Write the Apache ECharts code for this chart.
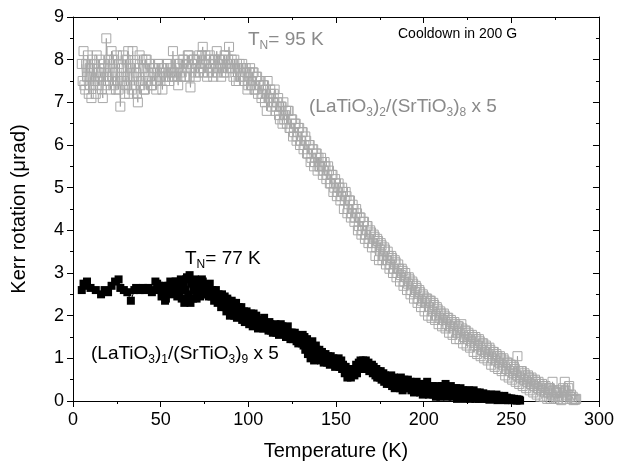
<!DOCTYPE html>
<html><head><meta charset="utf-8">
<script src="https://cdn.jsdelivr.net/npm/echarts@6/dist/echarts.min.js"></script>
<style>html,body{margin:0;padding:0;background:#fff}#c{width:617px;height:467px}</style>
</head><body><div id="c"></div>
<script>
// (LaTiO3)2/(SrTiO3)8 x 5  -- open grey squares
const tempA = [
5,5.5,6,6.5,7,7.5,8,8.5,9,9.5,
10,10.5,11,11.5,12,12.5,13,13.5,14,14.5,
15,15.5,16,16.5,17,17.5,18,18.5,19,19.5,
20,20.5,21,21.5,22,22.5,23,23.5,24,24.5,
25,25.5,26,26.5,27,27.5,28,28.5,29,29.5,
30,30.5,31,31.5,32,32.5,33,33.5,34,34.5,
35,35.5,36,36.5,37,37.5,38,38.5,39,39.5,
40,40.5,41,41.5,42,42.5,43,43.5,44,44.5,
45,45.5,46,46.5,47,47.5,48,48.5,49,49.5,
50,50.5,51,51.5,52,52.5,53,53.5,54,54.5,
55,55.5,56,56.5,57,57.5,58,58.5,59,59.5,
60,60.5,61,61.5,62,62.5,63,63.5,64,64.5,
65,65.5,66,66.5,67,67.5,68,68.5,69,69.5,
70,70.5,71,71.5,72,72.5,73,73.5,74,74.5,
75,75.5,76,76.5,77,77.5,78,78.5,79,79.5,
80,80.5,81,81.5,82,82.5,83,83.5,84,84.5,
85,85.5,86,86.5,87,87.5,88,88.5,89,89.5,
90,90.5,91,91.5,92,92.5,93,93.5,94,94.5,
95,95.5,96,96.5,97,97.5,98,98.5,99,99.5,
100,100.5,101,101.5,102,102.5,103,103.5,104,104.5,
105,105.5,106,106.5,107,107.5,108,108.5,109,109.5,
110,110.5,111,111.5,112,112.5,113,113.5,114,114.5,
115,115.5,116,116.5,117,117.5,118,118.5,119,119.5,
120,120.5,121,121.5,122,122.5,123,123.5,124,124.5,
125,125.5,126,126.5,127,127.5,128,128.5,129,129.5,
130,130.5,131,131.5,132,132.5,133,133.5,134,134.5,
135,135.5,136,136.5,137,137.5,138,138.5,139,139.5,
140,140.5,141,141.5,142,142.5,143,143.5,144,144.5,
145,145.5,146,146.5,147,147.5,148,148.5,149,149.5,
150,150.5,151,151.5,152,152.5,153,153.5,154,154.5,
155,155.5,156,156.5,157,157.5,158,158.5,159,159.5,
160,160.5,161,161.5,162,162.5,163,163.5,164,164.5,
165,165.5,166,166.5,167,167.5,168,168.5,169,169.5,
170,170.5,171,171.5,172,172.5,173,173.5,174,174.5,
175,175.5,176,176.5,177,177.5,178,178.5,179,179.5,
180,180.5,181,181.5,182,182.5,183,183.5,184,184.5,
185,185.5,186,186.5,187,187.5,188,188.5,189,189.5,
190,190.5,191,191.5,192,192.5,193,193.5,194,194.5,
195,195.5,196,196.5,197,197.5,198,198.5,199,199.5,
200,200.5,201,201.5,202,202.5,203,203.5,204,204.5,
205,205.5,206,206.5,207,207.5,208,208.5,209,209.5,
210,210.5,211,211.5,212,212.5,213,213.5,214,214.5,
215,215.5,216,216.5,217,217.5,218,218.5,219,219.5,
220,220.5,221,221.5,222,222.5,223,223.5,224,224.5,
225,225.5,226,226.5,227,227.5,228,228.5,229,229.5,
230,230.5,231,231.5,232,232.5,233,233.5,234,234.5,
235,235.5,236,236.5,237,237.5,238,238.5,239,239.5,
240,240.5,241,241.5,242,242.5,243,243.5,244,244.5,
245,245.5,246,246.5,247,247.5,248,248.5,249,249.5,
250,250.5,251,251.5,252,252.5,253,253.5,254,254.5,
255,255.5,256,256.5,257,257.5,258,258.5,259,259.5,
260,260.5,261,261.5,262,262.5,263,263.5,264,264.5,
265,265.5,266,266.5,267,267.5,268,268.5,269,269.5,
270,270.5,271,271.5,272,272.5,273,273.5,274,274.5,
275,275.5,276,276.5,277,277.5,278,278.5,279,279.5,
280,280.5,281,281.5,282,282.5,283,283.5,284,284.5,
285,285.5,286,286.5,287];
const kerrA = [
7.9,7.5,8.2,7.4,7.3,7.9,7.6,8.1,7.2,7.8,
7.6,7.1,8.0,7.4,7.9,7.5,7.2,8.1,7.7,7.4,
8.0,7.6,7.7,7.3,7.1,7.9,7.8,7.4,8.5,7.6,
7.5,8.0,7.9,7.3,8.2,7.6,7.4,8.0,7.7,7.3,
8.1,7.5,7.3,7.9,6.9,7.6,7.8,8.1,7.5,7.2,
8.0,7.4,7.6,8.2,7.2,7.8,7.9,7.3,8.2,7.6,
7.4,7.9,7.7,7.2,7.0,7.8,8.1,7.4,7.5,8.0,
7.8,7.3,7.3,8.0,8.0,7.5,7.6,7.9,7.9,7.4,
7.4,7.8,7.7,7.5,7.8,7.3,7.5,7.9,7.9,7.6,
7.6,7.8,7.3,7.7,7.8,7.5,7.6,7.9,7.9,7.6,
7.5,7.8,7.7,7.6,8.2,7.7,7.6,7.9,7.8,7.6,
7.4,7.9,7.9,7.6,7.7,8.0,8.0,7.6,7.6,7.9,
7.8,8.1,8.1,7.6,7.35,7.8,7.9,8.0,8.0,7.7,
7.6,8.0,7.9,7.7,8.1,7.8,7.8,8.1,8.3,7.7,
7.9,8.1,8.0,7.6,7.7,8.0,8.1,7.8,7.9,7.7,
7.6,8.0,8.0,7.8,8.2,7.7,7.8,8.0,7.9,7.6,
8.0,7.8,7.7,8.1,8.1,7.7,7.9,8.0,8.3,7.8,
7.8,8.0,7.9,7.6,8.0,7.8,7.5,7.9,7.8,7.5,
7.9,7.6,7.6,7.9,7.8,7.5,7.5,7.8,7.7,7.3,
7.4,7.7,7.8,7.4,7.5,7.7,7.7,7.3,7.3,7.6,
7.6,7.2,7.4,7.5,7.5,7.1,7.2,7.4,7.4,7.0,
7.3,6.8,7.5,7.1,7.1,7.3,7.2,6.9,7.0,7.2,
7.3,6.8,6.9,7.0,7.1,6.7,6.6,6.9,6.9,6.5,
7.0,6.6,6.7,6.8,6.5,6.8,6.8,6.4,6.4,6.6,
6.6,6.2,6.3,6.5,6.5,6.1,6.2,6.4,6.4,6.0,
6.1,6.3,6.3,5.9,6.0,6.2,6.1,5.8,5.8,6.0,
6.0,5.6,5.7,5.9,5.9,5.5,5.6,5.8,5.8,5.4,
5.7,5.5,5.5,5.7,5.6,5.3,5.4,5.6,5.5,5.2,
5.3,5.5,5.4,5.1,5.1,5.3,5.3,4.9,5.0,5.2,
5.1,4.8,4.9,5.1,5.0,4.7,4.8,5.0,4.9,4.5,
4.7,4.9,4.8,4.4,4.5,4.7,4.7,4.3,4.4,4.6,
4.5,4.2,4.3,4.5,4.4,4.0,4.1,4.3,4.3,3.9,
4.0,4.2,4.2,3.8,3.9,4.1,4.1,3.7,3.8,4.0,
3.95,3.6,3.7,3.9,3.85,3.4,3.6,3.8,3.75,3.3,
3.55,3.7,3.65,3.3,3.4,3.6,3.55,3.2,3.3,3.5,
3.4,3.1,3.2,3.4,3.35,3.0,3.1,3.3,3.25,2.9,
3.0,3.2,3.1,2.8,2.95,3.1,3.05,2.7,2.8,3.0,
2.9,2.6,2.75,2.9,2.85,2.5,2.6,2.8,2.75,2.4,
2.55,2.7,2.65,2.3,2.4,2.6,2.55,2.2,2.35,2.5,
2.45,2.1,2.3,2.4,2.4,2.0,2.2,2.35,2.35,1.95,
2.1,2.3,2.25,1.9,2.0,2.2,2.15,1.8,1.95,2.1,
2.05,1.75,1.9,2.05,2.0,1.7,1.8,1.95,1.95,1.6,
1.75,1.9,1.85,1.55,1.7,1.85,1.8,1.45,1.6,1.75,
1.75,1.45,1.6,1.8,1.7,1.35,1.5,1.65,1.65,1.3,
1.45,1.6,1.55,1.25,1.4,1.55,1.5,1.15,1.3,1.5,
1.45,1.1,1.3,1.45,1.4,1.05,1.2,1.35,1.35,1.0,
1.15,1.3,1.25,0.95,1.1,1.25,1.2,0.85,1.0,1.15,
1.15,0.8,0.95,1.1,1.05,0.75,0.9,1.05,1.0,0.7,
0.85,1.0,0.95,0.6,0.75,0.9,0.9,0.55,0.7,0.85,
0.85,0.5,0.65,0.8,0.75,0.45,0.6,1.05,0.7,0.4,
0.55,0.7,0.7,0.35,0.5,0.65,0.6,0.3,0.45,0.6,
0.55,0.25,0.4,0.55,0.5,0.2,0.35,0.5,0.45,0.15,
0.3,0.45,0.4,0.1,0.25,0.4,0.35,0.1,0.2,0.35,
0.3,0.05,0.2,0.3,0.3,0.05,0.15,0.45,0.25,0.05,
0.1,0.2,0.2,0.05,0.1,0.25,0.2,0.02,0.1,0.3,
0.2,0.45,0.25,0.05,0.15,0.3,0.35,0.1,0.15,0.05,
0.1,0.02,0.05,0.03,0.05];

// (LaTiO3)1/(SrTiO3)9 x 5  -- filled black squares
const tempB = [
5,6,7,8,10,13,16,18,20,22,24,26,27,29,31,33,35,36,38,40,41,43,45,46,47,48,49,
50,50.5,51,51.5,52,52.5,53,53.5,54,54.5,
55,55.5,56,56.5,57,57.5,58,58.5,59,59.5,
60,60.5,61,61.5,62,62.5,63,63.5,64,64.5,
65,65.5,66,66.5,67,67.5,68,68.5,69,69.5,
70,70.5,71,71.5,72,72.5,73,73.5,74,74.5,
75,75.5,76,76.5,77,77.5,78,78.5,79,79.5,
80,80.5,81,81.5,82,82.5,83,83.5,84,84.5,
85,85.5,86,86.5,87,87.5,88,88.5,89,89.5,
90,90.5,91,91.5,92,92.5,93,93.5,94,94.5,
95,95.5,96,96.5,97,97.5,98,98.5,99,99.5,
100,100.5,101,101.5,102,102.5,103,103.5,104,104.5,
105,105.5,106,106.5,107,107.5,108,108.5,109,109.5,
110,110.5,111,111.5,112,112.5,113,113.5,114,114.5,
115,115.5,116,116.5,117,117.5,118,118.5,119,119.5,
120,120.5,121,121.5,122,122.5,123,123.5,124,124.5,
125,125.5,126,126.5,127,127.5,128,128.5,129,129.5,
130,130.5,131,131.5,132,132.5,133,133.5,134,134.5,
135,135.5,136,136.5,137,137.5,138,138.5,139,139.5,
140,140.5,141,141.5,142,142.5,143,143.5,144,144.5,
145,145.5,146,146.5,147,147.5,148,148.5,149,149.5,
150,150.5,151,151.5,152,152.5,153,153.5,154,154.5,
155,155.5,156,156.5,157,157.5,158,158.5,159,159.5,
160,160.5,161,161.5,162,162.5,163,163.5,164,164.5,
165,165.5,166,166.5,167,167.5,168,168.5,169,169.5,
170,170.5,171,171.5,172,172.5,173,173.5,174,174.5,
175,175.5,176,176.5,177,177.5,178,178.5,179,179.5,
180,180.5,181,181.5,182,182.5,183,183.5,184,184.5,
185,185.5,186,186.5,187,187.5,188,188.5,189,189.5,
190,190.5,191,191.5,192,192.5,193,193.5,194,194.5,
195,195.5,196,196.5,197,197.5,198,198.5,199,199.5,
200,200.5,201,201.5,202,202.5,203,203.5,204,204.5,
205,205.5,206,206.5,207,207.5,208,208.5,209,209.5,
210,210.5,211,211.5,212,212.5,213,213.5,214,214.5,
215,215.5,216,216.5,217,217.5,218,218.5,219,219.5,
220,220.5,221,221.5,222,222.5,223,223.5,224,224.5,
225,225.5,226,226.5,227,227.5,228,228.5,229,229.5,
230,230.5,231,231.5,232,232.5,233,233.5,234,234.5,
235,235.5,236,236.5,237,237.5,238,238.5,239,239.5,
240,240.5,241,241.5,242,242.5,243,243.5,244,244.5,
245,245.5,246,246.5,247,247.5,248,248.5,249,249.5,
250,250.5,251,251.5,252,252.5,253,253.5,254,254.5,255];
const kerrB = [
2.6,2.75,2.7,2.8,2.65,2.6,2.5,2.6,2.55,2.7,2.8,2.85,2.65,2.6,2.55,2.35,2.6,2.65,2.6,2.65,2.6,2.65,2.55,2.6,2.8,2.75,2.7,
2.6,2.45,2.5,2.7,2.65,2.35,2.4,2.6,2.55,2.7,
2.65,2.8,2.75,2.5,2.7,2.6,2.55,2.8,2.75,2.45,
2.8,2.5,2.6,2.85,2.4,2.7,2.75,2.3,2.6,2.85,
2.9,2.35,2.5,2.95,2.3,2.75,2.8,2.4,2.65,2.85,
2.6,2.4,2.5,2.7,2.65,2.45,2.55,2.85,2.8,2.5,
2.7,2.55,2.5,2.65,2.6,2.45,2.75,2.5,2.45,2.6,
2.55,2.35,2.4,2.6,2.45,2.3,2.5,2.45,2.35,2.2,
2.5,2.3,2.3,2.45,2.2,2.1,2.4,2.35,2.2,2.0,
2.15,2.35,2.3,2.05,2.0,2.25,2.3,1.95,2.1,2.2,
2.0,2.15,2.2,1.9,2.05,2.1,1.85,1.95,2.1,2.0,
1.95,1.8,1.85,2.05,1.9,1.75,2.05,1.95,1.85,2.0,
1.8,1.7,1.9,1.85,1.75,1.9,1.85,1.7,1.95,1.8,
1.7,1.8,1.75,1.65,1.85,1.8,1.65,1.75,1.6,1.7,
1.7,1.8,1.6,1.75,1.65,1.55,1.7,1.8,1.6,1.75,
1.6,1.7,1.65,1.5,1.6,1.75,1.55,1.6,1.45,1.6,
1.6,1.45,1.5,1.6,1.55,1.4,1.5,1.35,1.5,1.45,
1.45,1.35,1.55,1.3,1.5,1.2,1.3,1.45,1.1,1.25,
1.35,1.0,1.2,1.4,1.25,0.95,1.15,1.3,1.2,1.0,
1.1,1.2,1.05,0.95,1.15,1.1,0.9,1.05,1.1,0.95,
0.9,1.05,1.0,0.85,1.05,0.95,0.9,1.0,0.95,0.8,
0.95,0.85,0.9,1.0,0.8,0.9,0.95,0.75,0.85,0.8,
0.65,0.8,0.7,0.55,0.75,0.6,0.7,0.55,0.65,0.75,
0.75,0.6,0.7,0.85,0.65,0.8,0.9,0.75,0.95,0.85,
0.85,0.95,0.8,0.9,0.95,0.75,0.85,0.9,0.7,0.8,
0.75,0.85,0.65,0.8,0.7,0.6,0.75,0.55,0.7,0.6,
0.55,0.7,0.5,0.6,0.65,0.45,0.6,0.55,0.4,0.55,
0.55,0.4,0.5,0.6,0.35,0.5,0.55,0.3,0.45,0.5,
0.35,0.5,0.45,0.3,0.55,0.4,0.25,0.45,0.5,0.3,
0.45,0.35,0.5,0.3,0.4,0.45,0.25,0.4,0.3,0.2,
0.4,0.35,0.45,0.25,0.3,0.4,0.2,0.35,0.3,0.15,
0.35,0.4,0.2,0.3,0.45,0.25,0.15,0.35,0.3,0.2,
0.35,0.15,0.3,0.25,0.1,0.3,0.35,0.2,0.25,0.1,
0.25,0.35,0.15,0.3,0.2,0.4,0.25,0.1,0.3,0.2,
0.3,0.35,0.2,0.1,0.3,0.25,0.15,0.3,0.05,0.2,
0.25,0.15,0.3,0.2,0.1,0.25,0.2,0.05,0.25,0.15,
0.1,0.2,0.25,0.05,0.15,0.2,0.1,0.25,0.15,0.05,
0.1,0.2,0.15,0.05,0.2,0.1,0.15,0.05,0.18,0.08,
0.1,0.15,0.05,0.12,0.15,0.03,0.1,0.15,0.05,0.1,
0.12,0.05,0.1,0.15,0.02,0.08,0.12,0.05,0.1,0.03,
0.03,0.1,0.12,0.02,0.05,0.08,0.02,0.06,0.03,0.05,
0.06,0.02,0.04,0.05,0.02,0.03,0.01,0.04,0.02,0.03,0.01];

const xTicks = [0, 50, 100, 150, 200, 250, 300];
const yTicks = [0, 1, 2, 3, 4, 5, 6, 7, 8, 9];

const dataA = tempA.map((t, i) => [t, kerrA[i]]);
const dataB = tempB.map((t, i) => [t, kerrB[i]]);

const FONT = '"Liberation Sans", Arial, sans-serif';
const GREY = '#8a8a8a';

const chart = echarts.init(document.getElementById('c'), null, {renderer: 'canvas'});
const baseX = {
  type: 'value', min: xTicks[0], max: xTicks[xTicks.length - 1], interval: 50,
  splitLine: {show: false},
  axisLine: {show: true, onZero: false, lineStyle: {color: '#000', width: 1}},
  minorTick: {show: true, splitNumber: 2, length: 3, lineStyle: {color: '#000'}},
};
const baseY = {
  type: 'value', min: yTicks[0], max: yTicks[yTicks.length - 1], interval: 1,
  splitLine: {show: false},
  axisLine: {show: true, onZero: false, lineStyle: {color: '#000', width: 1}},
  minorTick: {show: true, splitNumber: 2, length: 3, lineStyle: {color: '#000'}},
};
const sub = (c) => ({
  a: {fontFamily: FONT, fontSize: 19, fill: c},
  s: {fontFamily: FONT, fontSize: 12, fill: c, padding: [12, 0, 0, 0]}
});

chart.setOption({
  animation: false,
  backgroundColor: '#fff',
  grid: {left: 73, right: 18, top: 17, bottom: 66, containLabel: false},
  xAxis: [
    Object.assign({}, baseX, {
      position: 'bottom',
      name: 'Temperature (K)', nameLocation: 'middle', nameGap: 40,
      nameTextStyle: {fontFamily: FONT, fontSize: 20, color: '#000'},
      axisTick: {show: true, inside: false, length: 6, lineStyle: {color: '#000'}},
      axisLabel: {show: true, margin: 10, fontFamily: FONT, fontSize: 18, color: '#000'},
    }),
    Object.assign({}, baseX, {
      position: 'top',
      axisTick: {show: true, inside: true, length: 6, lineStyle: {color: '#000'}},
      axisLabel: {show: false},
    })
  ],
  yAxis: [
    Object.assign({}, baseY, {
      position: 'left',
      name: 'Kerr rotation (\u03bcrad)', nameLocation: 'middle', nameGap: 44,
      nameTextStyle: {fontFamily: FONT, fontSize: 20, color: '#000'},
      axisTick: {show: true, inside: false, length: 6, lineStyle: {color: '#000'}},
      axisLabel: {show: true, margin: 9, fontFamily: FONT, fontSize: 18, color: '#000'},
    }),
    Object.assign({}, baseY, {
      position: 'right',
      axisTick: {show: true, inside: true, length: 6, lineStyle: {color: '#000'}},
      axisLabel: {show: false},
    })
  ],
  series: [
    {
      type: 'line', xAxisIndex: 0, yAxisIndex: 0, data: dataA,
      symbol: 'rect', symbolSize: 9, showSymbol: true, showAllSymbol: true,
      lineStyle: {color: '#8f8f8f', width: 0.7},
      itemStyle: {color: 'rgba(255,255,255,0)', borderColor: '#a8a8a8', borderWidth: 1},
      emphasis: {disabled: true}, z: 2
    },
    {
      type: 'line', xAxisIndex: 0, yAxisIndex: 0, data: dataB,
      symbol: 'rect', symbolSize: 8, showSymbol: true, showAllSymbol: true,
      lineStyle: {color: '#000', width: 1},
      itemStyle: {color: '#000', borderColor: '#000', borderWidth: 0},
      emphasis: {disabled: true}, z: 3
    }
  ],
  graphic: [
    {type: 'text', left: 248, top: 30, style: {text: '{a|T}{s|N}{a|= 95 K}', rich: sub(GREY)}},
    {type: 'text', left: 398, top: 27, style: {text: 'Cooldown in 200 G', fontFamily: FONT, fontSize: 14, fill: '#000'}},
    {type: 'text', left: 309, top: 97, style: {text: '{a|(LaTiO}{s|3}{a|)}{s|2}{a|/(SrTiO}{s|3}{a|)}{s|8}{a| x 5}', rich: sub(GREY)}},
    {type: 'text', left: 185, top: 249, style: {text: '{a|T}{s|N}{a|= 77 K}', rich: sub('#000')}},
    {type: 'text', left: 91, top: 344, style: {text: '{a|(LaTiO}{s|3}{a|)}{s|1}{a|/(SrTiO}{s|3}{a|)}{s|9}{a| x 5}', rich: sub('#000')}}
  ]
});
</script>
</body></html>
